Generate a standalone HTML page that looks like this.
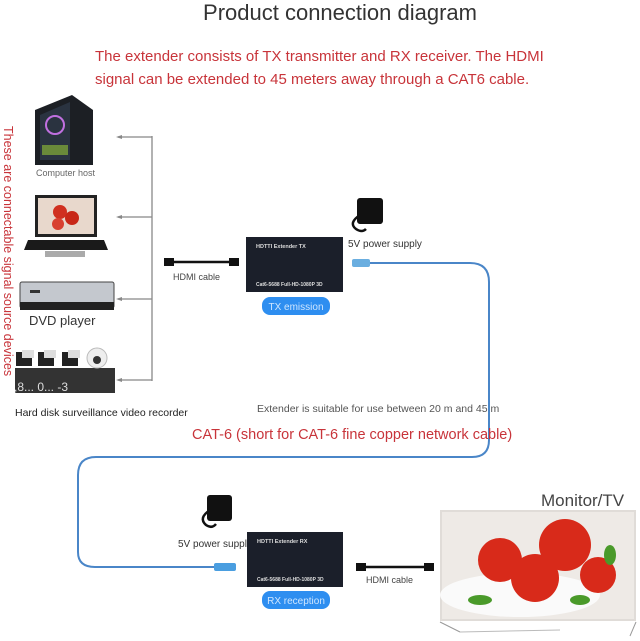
<!DOCTYPE html>
<html><head><meta charset="utf-8"><style>
html,body{margin:0;padding:0;background:#fff}
svg{display:block}
text{font-family:"Liberation Sans",Arial,sans-serif}
</style></head><body>
<svg width="640" height="641" viewBox="0 0 640 641" xmlns="http://www.w3.org/2000/svg">
<rect width="640" height="641" fill="#fff"/>
<text x="340" y="20" font-size="22" fill="#333" text-anchor="middle">Product connection diagram</text>
<text x="95" y="61" font-size="15" fill="#c8343a">The extender consists of TX transmitter and RX receiver. The HDMI</text>
<text x="95" y="84" font-size="15" fill="#c8343a">signal can be extended to 45 meters away through a CAT6 cable.</text>
<text transform="translate(4,126) rotate(90)" font-size="12.5" fill="#c8343a">These are connectable signal source devices</text>

<!-- computer -->
<polygon points="35,110 72,95 93,110 93,165 35,165" fill="#1c1f24"/>
<polygon points="40,115 70,102 70,160 40,160" fill="#2a3340"/>
<circle cx="55" cy="125" r="9" fill="none" stroke="#c070e0" stroke-width="2"/>
<rect x="42" y="145" width="26" height="10" fill="#6a8a3a"/>
<text x="36" y="176" font-size="9" fill="#666">Computer host</text>
<!-- laptop -->
<rect x="35" y="195" width="62" height="42" fill="#222"/>
<rect x="38" y="198" width="56" height="36" fill="#e8d8cc"/>
<circle cx="60" cy="212" r="7" fill="#d03020"/><circle cx="72" cy="218" r="7" fill="#c82818"/><circle cx="58" cy="224" r="6" fill="#d84030"/>
<polygon points="28,240 104,240 108,250 24,250" fill="#1a1a1a"/>
<rect x="45" y="251" width="40" height="6" fill="#555" opacity=".5"/>
<!-- dvd -->
<rect x="20" y="282" width="94" height="26" rx="2" fill="#c4c8ce" stroke="#444"/>
<rect x="20" y="302" width="94" height="8" fill="#222"/>
<rect x="30" y="290" width="10" height="3" fill="#333"/>
<text x="29" y="325" font-size="13" fill="#333">DVD player</text>
<!-- cameras -->
<rect x="15" y="368" width="100" height="25" fill="#333"/>
<g fill="#222"><rect x="16" y="352" width="16" height="14"/><rect x="38" y="352" width="16" height="14"/><rect x="62" y="352" width="16" height="14"/></g>
<g fill="#ddd"><rect x="22" y="350" width="12" height="8"/><rect x="44" y="350" width="12" height="8"/><rect x="68" y="350" width="12" height="8"/></g>
<circle cx="97" cy="358" r="10" fill="#eee" stroke="#bbb"/><circle cx="97" cy="360" r="4" fill="#333"/>
<text x="14" y="391" font-size="12" fill="#ddd">,8... 0... -3</text>
<text x="15" y="416" font-size="10.5" fill="#222">Hard disk surveillance video recorder</text>

<!-- arrows -->
<g stroke="#888" stroke-width="1.3" fill="none">
<line x1="152" y1="136" x2="152" y2="381"/>
<line x1="152" y1="137" x2="118" y2="137"/>
<line x1="152" y1="217" x2="118" y2="217"/>
<line x1="152" y1="299" x2="118" y2="299"/>
<line x1="152" y1="380" x2="118" y2="380"/>
</g>
<g fill="#888"><polygon points="116,137 122,135 122,139"/><polygon points="116,217 122,215 122,219"/><polygon points="116,299 122,297 122,301"/><polygon points="116,380 122,378 122,382"/></g>

<!-- hdmi cable TX -->
<line x1="170" y1="262" x2="232" y2="262" stroke="#111" stroke-width="2.5"/>
<rect x="164" y="258" width="10" height="8" fill="#111"/><rect x="229" y="258" width="10" height="8" fill="#111"/>
<text x="173" y="280" font-size="9" fill="#444">HDMI cable</text>

<!-- TX box -->
<rect x="246" y="237" width="97" height="55" fill="#1b1f2a"/>
<text x="256" y="248" font-size="5.5" fill="#ddd" font-weight="bold">HDTTI Extender TX</text>
<text x="256" y="286" font-size="5" fill="#ddd" font-weight="bold">Cat6-5688 Full-HD-1080P 3D</text>
<rect x="262" y="297" width="68" height="18" rx="8" fill="#2e8ef0"/>
<text x="296" y="310" font-size="10" fill="#cfe6ff" text-anchor="middle">TX emission</text>

<!-- adapter TX -->
<rect x="357" y="198" width="26" height="26" rx="3" fill="#111"/>
<path d="M360 215 q-12 8 -4 14 q6 4 10 0" stroke="#111" stroke-width="2.5" fill="none"/>
<text x="348" y="247" font-size="10" fill="#333">5V power supply</text>

<!-- blue cable -->
<path d="M368 263 H470 Q489 263 489 282 V440 Q489 457 472 457 H96 Q78 457 78 475 V552 Q78 567 95 567 H214" stroke="#4a86c8" stroke-width="2" fill="none"/>
<rect x="352" y="259" width="18" height="8" rx="2" fill="#6aaee0"/>
<rect x="214" y="563" width="22" height="8" rx="2" fill="#4a9ee0"/>

<text x="257" y="412" font-size="10.5" fill="#555">Extender is suitable for use between 20 m and 45 m</text>
<text x="192" y="439" font-size="14.5" fill="#c8343a">CAT-6 (short for CAT-6 fine copper network cable)</text>

<!-- adapter RX -->
<rect x="207" y="495" width="25" height="26" rx="3" fill="#111"/>
<path d="M210 510 q-12 8 -4 15 q6 4 10 -1" stroke="#111" stroke-width="2.5" fill="none"/>
<text x="178" y="547" font-size="10" fill="#333">5V power supply</text>

<!-- RX box -->
<rect x="247" y="532" width="96" height="55" fill="#1b1f2a"/>
<text x="257" y="543" font-size="5.5" fill="#ddd" font-weight="bold">HDTTI Extender RX</text>
<text x="257" y="581" font-size="5" fill="#ddd" font-weight="bold">Cat6-5688 Full-HD-1080P 3D</text>
<rect x="262" y="591" width="68" height="18" rx="8" fill="#2e8ef0"/>
<text x="296" y="604" font-size="10" fill="#cfe6ff" text-anchor="middle">RX reception</text>

<!-- hdmi cable RX -->
<line x1="362" y1="567" x2="428" y2="567" stroke="#111" stroke-width="2.5"/>
<rect x="356" y="563" width="10" height="8" fill="#111"/><rect x="424" y="563" width="10" height="8" fill="#111"/>
<text x="366" y="583" font-size="9" fill="#444">HDMI cable</text>

<!-- TV -->
<text x="541" y="506" font-size="17" fill="#444">Monitor/TV</text>
<rect x="440" y="510" width="196" height="111" fill="#e0dcd8"/>
<rect x="442" y="512" width="192" height="107" fill="#eeeae6"/>
<ellipse cx="520" cy="595" rx="80" ry="22" fill="#fafafa"/>
<g fill="#d82a1a">
<circle cx="500" cy="560" r="22"/><circle cx="565" cy="545" r="26"/><circle cx="535" cy="578" r="24"/><circle cx="598" cy="575" r="18"/>
</g>
<g fill="#4a9a2a"><ellipse cx="480" cy="600" rx="12" ry="5"/><ellipse cx="580" cy="600" rx="10" ry="5"/><ellipse cx="610" cy="555" rx="6" ry="10"/></g>
<line x1="440" y1="622" x2="460" y2="632" stroke="#999"/><line x1="636" y1="622" x2="630" y2="636" stroke="#999"/>
<line x1="460" y1="632" x2="560" y2="630" stroke="#bbb"/>
</svg>
</body></html>
